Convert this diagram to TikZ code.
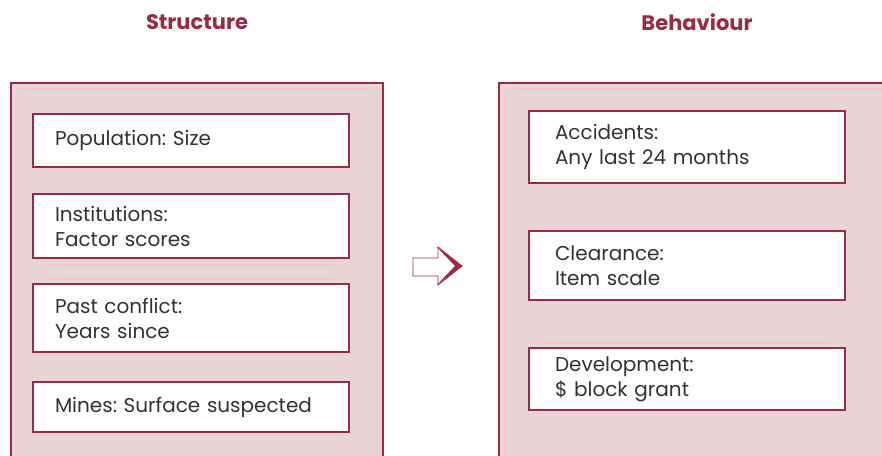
\documentclass[tikz,border=0pt]{standalone}
\usepackage{fontspec}
\setmainfont{Poppins}
\frenchspacing
\definecolor{wine}{HTML}{9B2A48}
\definecolor{blush}{HTML}{EAD3D6}
\definecolor{ink}{HTML}{333333}
\begin{document}
\begin{tikzpicture}[x=1pt,y=-1pt,
  title/.style={text=wine,font=\bfseries\fontsize{21}{24}\selectfont},
  panel/.style={draw=wine,line width=1.8pt,fill=blush},
  item/.style={draw=wine,line width=2.2pt,fill=white,text=ink,
    font=\fontsize{20}{25}\selectfont,align=left,
    minimum width=316pt,text width=#1,inner xsep={(316pt-#1)/2}},
  item/.default=272pt]
\useasboundingbox (0,0) rectangle (882,455);
\clip (0,0) rectangle (882,455);
\node[title] (structure) at (197,22) {Structure};
\node[title] (behaviour) at (697,22) {Behaviour};
% outer panels run off the page
\draw[panel] (11,83) rectangle (383,470);
\draw[panel] (499,83) rectangle (900,470);
\node[item,minimum height=53pt] (size) at (191,140.5) {Population: Size};
\node[item,minimum height=64pt] (inst) at (191,226) {Institutions:\\Factor scores};
\node[item,minimum height=68pt] (past) at (191,318) {Past conflict:\\Years since};
\node[item,minimum height=50pt] (mines) at (191,407) {Mines: Surface suspected};
\node[item=264pt,minimum height=72pt] (acc) at (687,147) {Accidents:\\Any last 24 months};
\node[item=264pt,minimum height=69pt] (clear) at (687,265.5) {Clearance:\\Item scale};
\node[item=264pt,minimum height=62pt] (dev) at (687,379) {Development:\\\$ block grant};
% open arrow
\draw[wine,line width=0.8pt,fill=white] (413,258) -- (438,258) -- (438,247) -- (462,266)
  -- (438,285) -- (438,276) -- (413,276) -- cycle;
\fill[wine] (437,247) -- (462,266) -- (437,285) -- (443,278.5) -- (455,266) -- (443,253.5) -- cycle;
\end{tikzpicture}
\end{document}
